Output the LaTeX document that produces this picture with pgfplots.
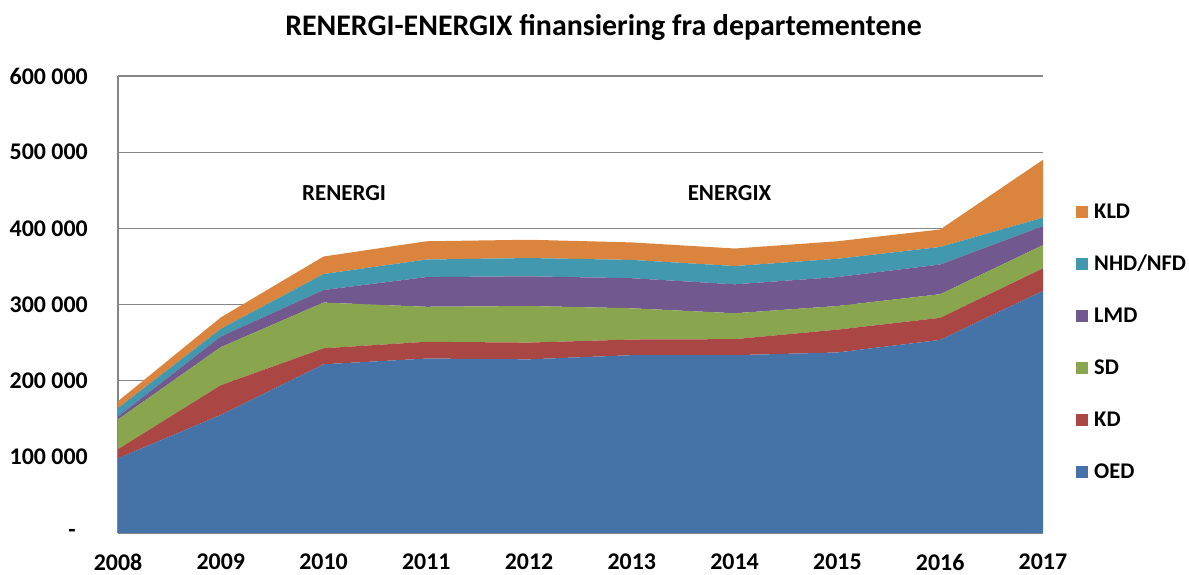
\documentclass[border=0pt]{standalone}
\usepackage{pgfplots}
\pgfplotsset{compat=1.18}
\usepackage{fontspec}
\setmainfont{Carlito}
\definecolor{cOED}{RGB}{69,114,167}
\definecolor{cKD}{RGB}{170,70,67}
\definecolor{cSD}{RGB}{137,165,78}
\definecolor{cLMD}{RGB}{113,88,143}
\definecolor{cNHD}{RGB}{65,152,175}
\definecolor{cKLD}{RGB}{219,132,61}
\definecolor{gridgray}{RGB}{134,134,134}
\begin{document}
\begin{tikzpicture}[x=1bp,y=1bp]
\useasboundingbox (0,0) rectangle (1189,575);
\node[font=\bfseries\fontsize{30}{30}\selectfont, inner sep=0pt] at (603.5,547) {RENERGI-ENERGIX finansiering fra departementene};
\begin{axis}[
  at={(118bp,42bp)}, anchor=south west,
  scale only axis, width=925bp, height=457bp,
  xmin=2008, xmax=2017, ymin=0, ymax=600000,
  scaled y ticks=false,
  stack plots=y,
  axis x line*=bottom, axis y line*=left,
  axis line style={gridgray, line width=1.2bp, -},
  ymajorgrids, grid style={gridgray, line width=1.2bp},
  major tick length=0pt,
  xtick={2008,...,2017},
  xticklabels={2008,2009,2010,2011,2012,2013,2014,2015,2016,2017},
  ytick={0,100000,200000,300000,400000,500000,600000},
  yticklabels={{-\hspace*{12bp}},{100 000},{200 000},{300 000},{400 000},{500 000},{600 000}},
  tick label style={font=\bfseries\fontsize{24}{24}\selectfont, inner sep=0pt},
  yticklabel style={anchor=east, xshift=-30bp},
  xticklabel style={anchor=north, yshift=-21bp},
  reverse legend,
  legend image code/.code={\path[#1,draw=none] (0bp,-6bp) rectangle (12bp,6bp);},
  legend style={draw=none, fill=none, at={(1.0357,0.7184)}, anchor=north west,
    inner sep=0pt, row sep=38bp,
    font=\bfseries\fontsize{22.5}{22.5}\selectfont,
    nodes={inner sep=0pt, text height=14bp, text depth=0bp},
    /tikz/every odd column/.append style={column sep=6bp}},
  legend cell align=left,
]
\addplot[fill=cOED, draw=none] coordinates {(2008,98000) (2009,155000) (2010,221500) (2011,229000) (2012,228000) (2013,233500) (2014,233500) (2015,237000) (2016,253500) (2017,318000)} \closedcycle;
\addlegendentry{OED}
\addplot[fill=cKD, draw=none] coordinates {(2008,12000) (2009,39000) (2010,21000) (2011,22000) (2012,22000) (2013,20500) (2014,21000) (2015,30000) (2016,29000) (2017,29500)} \closedcycle;
\addlegendentry{KD}
\addplot[fill=cSD, draw=none] coordinates {(2008,39000) (2009,50000) (2010,60000) (2011,46000) (2012,48000) (2013,41000) (2014,34000) (2015,31000) (2016,31000) (2017,30500)} \closedcycle;
\addlegendentry{SD}
\addplot[fill=cLMD, draw=none] coordinates {(2008,4000) (2009,14000) (2010,16500) (2011,39000) (2012,39000) (2013,39500) (2014,38000) (2015,38000) (2016,39000) (2017,25000)} \closedcycle;
\addlegendentry{LMD}
\addplot[fill=cNHD, draw=none] coordinates {(2008,11000) (2009,10000) (2010,21000) (2011,23000) (2012,24000) (2013,24000) (2014,24000) (2015,24000) (2016,23000) (2017,11000)} \closedcycle;
\addlegendentry{NHD/NFD}
\addplot[fill=cKLD, draw=none] coordinates {(2008,9000) (2009,15000) (2010,23000) (2011,24000) (2012,24000) (2013,23000) (2014,23000) (2015,23000) (2016,23000) (2017,76000)} \closedcycle;
\addlegendentry{KLD}
\node[font=\bfseries\fontsize{23}{23}\selectfont] at (axis cs:2010.2,446000) {RENERGI};
\node[font=\bfseries\fontsize{23}{23}\selectfont] at (axis cs:2013.95,446000) {ENERGIX};
\end{axis}
\end{tikzpicture}
\end{document}
